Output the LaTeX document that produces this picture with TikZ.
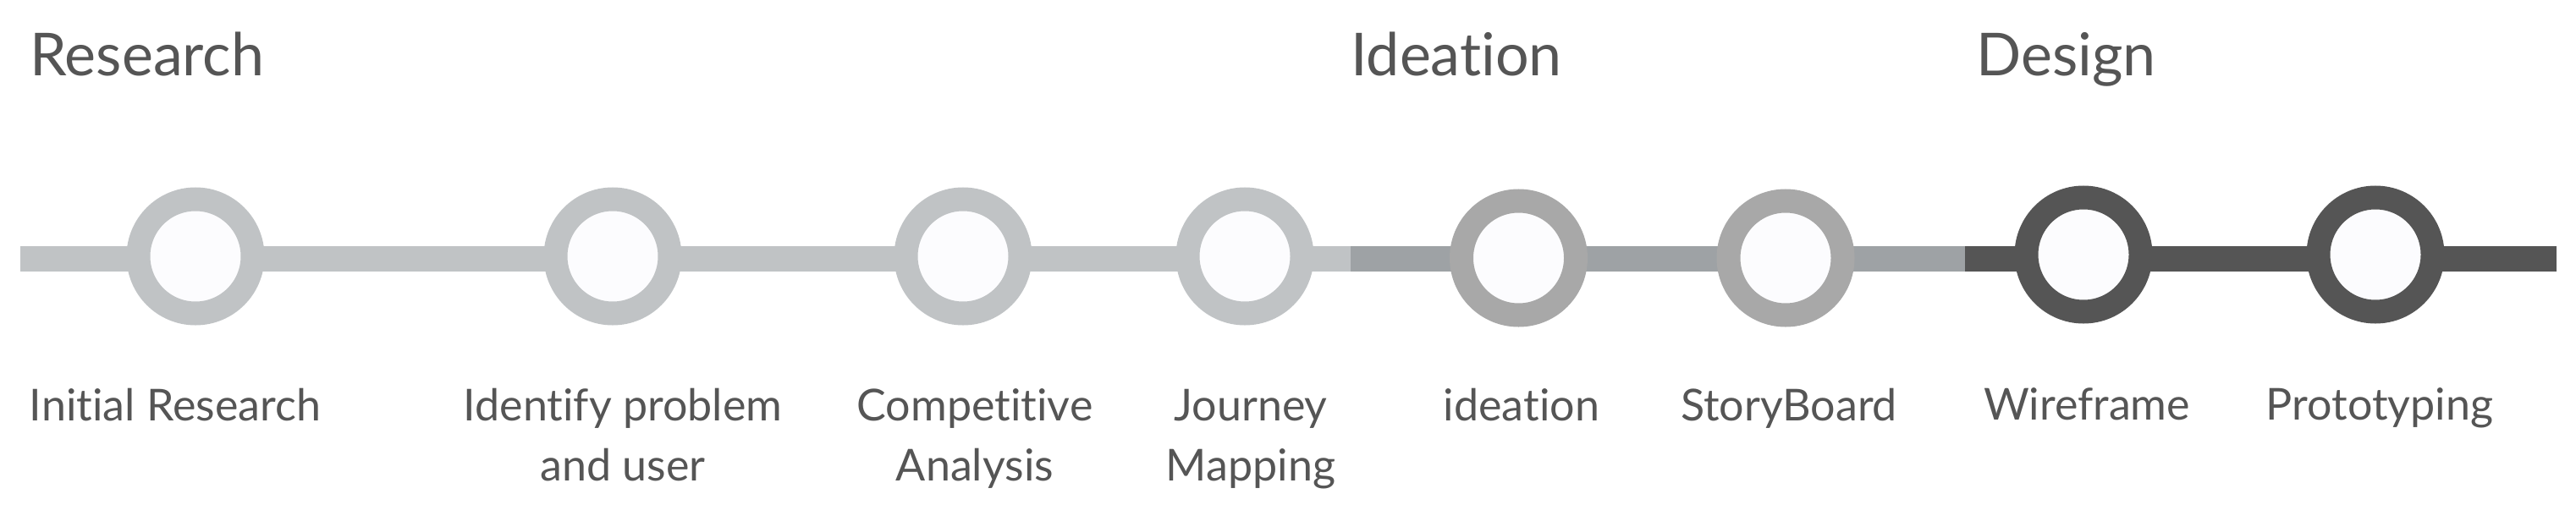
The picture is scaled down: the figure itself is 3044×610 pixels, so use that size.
\documentclass[tikz,border=0pt]{standalone}
\usepackage{fontspec}
\setmainfont{Lato}[Ligatures={NoCommon,NoRare,NoDiscretionary}]
\usetikzlibrary{backgrounds}
\definecolor{txt}{HTML}{555555}
\definecolor{lightg}{HTML}{C0C3C5}
\definecolor{medbar}{HTML}{9EA2A5}
\definecolor{medring}{HTML}{A8A8A8}
\definecolor{darkg}{HTML}{555555}
\definecolor{innerf}{HTML}{FCFCFE}
\tikzset{
  ring/.style={circle, minimum size=135pt, inner sep=0pt, line width=28pt, fill=innerf},
  ringL/.style={ring, draw=lightg},
  ringM/.style={ring, draw=medring},
  ringD/.style={ring, draw=darkg},
  bar/.style={line width=30pt, line cap=butt},
  phase/.style={anchor=base west, text=txt, font=\fontsize{70}{84}\selectfont, inner sep=0pt},
  lbl/.style={anchor=base, text=txt, align=center, font=\fontsize{52}{71}\selectfont, inner sep=0pt},
}
\begin{document}
\begin{tikzpicture}[x=1pt,y=-1pt]
\useasboundingbox (0,0) rectangle (3044,610);
% phase titles
\node[phase] (pR) at (35,89) {Research};
\node[phase] (pI) at (1596,89) {Ideation};
\node[phase] (pD) at (2335,89) {Design};
% steps
\node[ringL] (c1) at (231,303) {};
\node[ringL] (c2) at (724,303) {};
\node[ringL] (c3) at (1138,303) {};
\node[ringL] (c4) at (1471,303) {};
\node[ringM] (c5) at (1794.5,305) {};
\node[ringM] (c6) at (2110,305) {};
\node[ringD] (c7) at (2462,301) {};
\node[ringD] (c8) at (2807,301) {};
% bar
\coordinate (bs) at (24,306);
\coordinate (t1) at (1596,306);
\coordinate (t2) at (2322,306);
\coordinate (be) at (3021,306);
\begin{scope}[on background layer]
\fill[white] (0,0) rectangle (3044,610);
\draw[bar, lightg] (bs) -- (t1);
\draw[bar, medbar] (t1) -- (t2);
\draw[bar, darkg] (t2) -- (be);
\end{scope}
% labels
\node[lbl] (l1) at (207,497) {Initial Research};
\node[lbl] (l2) at (736,568) {Identify problem\\and user};
\node[lbl] (l3) at (1152,568) {Competitive\\Analysis};
\node[lbl] (l4) at (1478,568) {Journey\\Mapping};
\node[lbl] (l5) at (1798,497) {ideation};
\node[lbl] (l6) at (2114,497) {StoryBoard};
\node[lbl] (l7) at (2466,496) {Wireframe};
\node[lbl] (l8) at (2812,496) {Prototyping};
\end{tikzpicture}
\end{document}
